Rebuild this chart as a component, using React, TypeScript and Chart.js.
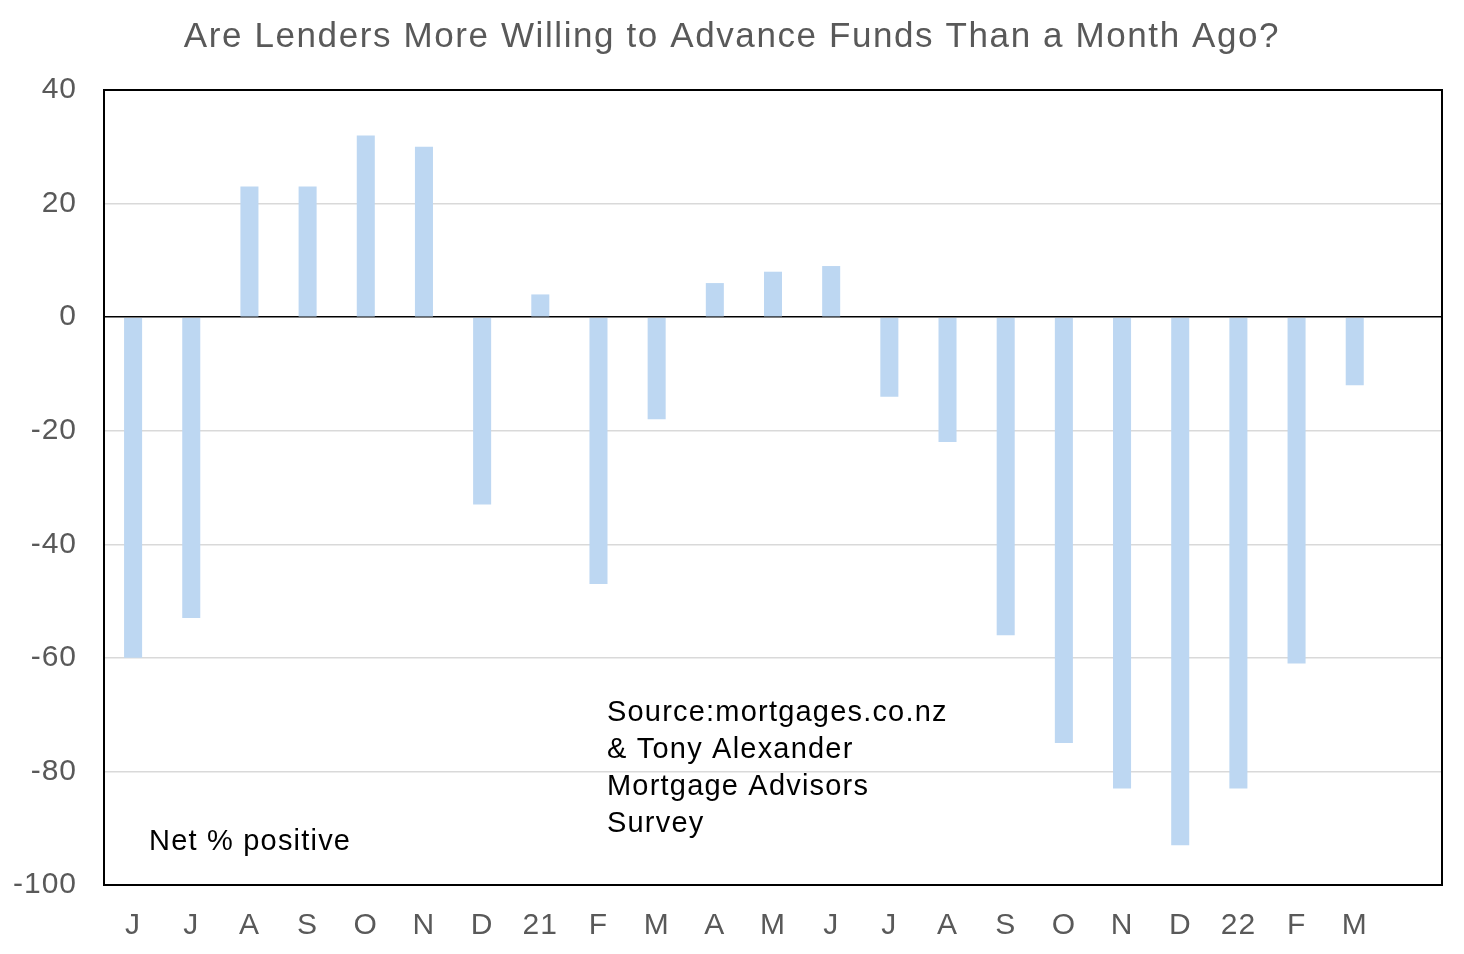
import React, { useEffect, useRef } from "react";
import { Chart, registerables } from "chart.js";

Chart.register(...registerables);

const TITLE = "Are Lenders More Willing to Advance Funds Than a Month Ago?";
const CATEGORIES = ["J", "J", "A", "S", "O", "N", "D", "21", "F", "M", "A", "M", "J", "J", "A", "S", "O", "N", "D", "22", "F", "M", ""];
const NET_POSITIVE = [-60, -53, 23, 23, 32, 30, -33, 4, -47, -18, 6, 8, 9, -14, -22, -56, -75, -83, -93, -83, -61, -12, null];
const Y_MIN = -100;
const Y_MAX = 40;
const Y_STEP = 20;
const NOTE_LEFT = "Net % positive";
const NOTE_SOURCE = ["Source:mortgages.co.nz", "& Tony Alexander", "Mortgage Advisors", "Survey"];

const FONT = "'Liberation Sans', Arial, sans-serif";

const overlayPlugin = {
  id: "overlay",
  beforeDraw(chart: any) {
    const ctx = chart.ctx as any;
    ctx.letterSpacing = "1px";
  },
  afterDraw(chart: any) {
    const { chartArea } = chart;
    const ctx = chart.ctx as any;
    ctx.save();
    // plot border
    ctx.strokeStyle = "#000000";
    ctx.lineWidth = 2;
    ctx.strokeRect(chartArea.left, chartArea.top, chartArea.right - chartArea.left, chartArea.bottom - chartArea.top);
    // title
    ctx.fillStyle = "#595959";
    ctx.font = `35px ${FONT}`;
    ctx.letterSpacing = "1.6px";
    ctx.textAlign = "center";
    ctx.textBaseline = "alphabetic";
    ctx.fillText(TITLE, 732, 47);
    // notes
    ctx.fillStyle = "#000000";
    ctx.font = `29px ${FONT}`;
    ctx.letterSpacing = "1.2px";
    ctx.textAlign = "left";
    ctx.fillText(NOTE_LEFT, chartArea.left + 45, 850);
    NOTE_SOURCE.forEach((line, i) => {
      ctx.fillText(line, chartArea.left + 503, 721 + i * 37);
    });
    ctx.restore();
  },
};

export default function App() {
  const ref = useRef<HTMLCanvasElement | null>(null);
  useEffect(() => {
    if (!ref.current) return;
    const chart = new Chart(ref.current, {
      type: "bar",
      data: {
        labels: CATEGORIES,
        datasets: [
          {
            label: "Net % positive",
            data: NET_POSITIVE as any,
            backgroundColor: "#BDD7F2",
            borderWidth: 0,
            barPercentage: 0.31,
            categoryPercentage: 1,
          },
        ],
      },
      options: {
        animation: false,
        responsive: false,
        maintainAspectRatio: false,
        devicePixelRatio: 1,
        layout: { padding: { left: 0, top: 90, right: 22, bottom: 0 } },
        plugins: {
          legend: { display: false },
          title: { display: false },
          tooltip: { enabled: false },
        },
        scales: {
          x: {
            grid: { display: false, drawTicks: false },
            border: { display: false },
            ticks: {
              color: "#595959",
              font: { family: FONT, size: 30 },
              padding: 23,
              autoSkip: false,
              maxRotation: 0,
            },
            afterFit(scale: any) {
              scale.height = 69;
            },
          },
          y: {
            min: Y_MIN,
            max: Y_MAX,
            border: { display: false },
            grid: {
              drawTicks: false,
              color: (c: any) => (c.tick && c.tick.value === 0 ? "#000000" : "#D9D9D9"),
              lineWidth: 1.5,
            },
            ticks: {
              stepSize: Y_STEP,
              color: "#595959",
              font: { family: FONT, size: 30 },
              padding: 27,
            },
            afterFit(scale: any) {
              scale.width = 104;
            },
          },
        },
      },
      plugins: [overlayPlugin],
    });
    return () => chart.destroy();
  }, []);
  return (
    <div style={{ position: "fixed", left: 0, top: 0, width: 1464, height: 954, background: "#ffffff" }}>
      <canvas ref={ref} width={1464} height={954} style={{ width: 1464, height: 954, display: "block" }} />
    </div>
  );
}
